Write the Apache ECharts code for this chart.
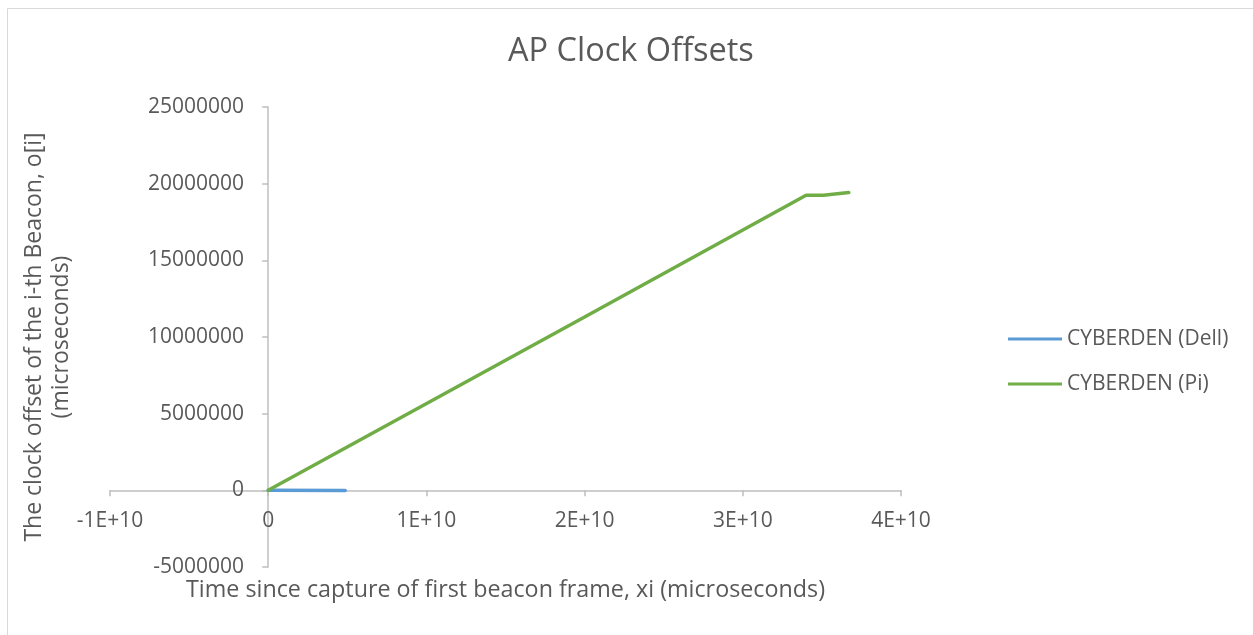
<!DOCTYPE html>
<html>
<head>
<meta charset="utf-8">
<script src="https://cdn.jsdelivr.net/npm/echarts@6/dist/echarts.min.js"></script>
<style>
  html, body { margin: 0; padding: 0; background: #fff; }
  #chart { width: 1253px; height: 635px; }
</style>
</head>
<body>
<div id="chart"></div>
<script>
// values (x in microseconds, y in microseconds)
const seriesNames = ["CYBERDEN (Dell)", "CYBERDEN (Pi)"];
const dellPoints = [[0, 0], [4.87e9, -5000]];
const piPoints = [[0, 0], [2.0e10, 11300000], [3.40e10, 19250000], [3.51e10, 19250000], [3.67e10, 19420000]];
const xTicks = [-1e10, 0, 1e10, 2e10, 3e10, 4e10];
const yTicks = [-5000000, 0, 5000000, 10000000, 15000000, 20000000, 25000000];

const textColor = "#595959";
const axisColor = "#bfbfbf";
const font = "'Open Sans', 'Noto Sans', sans-serif";

const chart = echarts.init(document.getElementById("chart"));
// axis lines sit on zero, but v6 keeps labels/names at grid edges,
// so the margins below are measured from the grid edges
chart.setOption({
  animation: false,
  textStyle: { fontFamily: font },
  graphic: [{
    type: "rect",
    shape: { x: 7.5, y: 8.5, width: 1260, height: 640 },
    style: { fill: "none", stroke: "#d9d9d9", lineWidth: 1 },
    silent: true
  }],
  title: {
    text: "AP Clock Offsets",
    left: 508,
    top: 35,
    padding: 0,
    textStyle: { color: textColor, fontSize: 32.5, fontWeight: "normal", fontFamily: font }
  },
  legend: {
    orient: "vertical",
    left: 1008,
    top: 327,
    padding: 0,
    data: seriesNames,
    icon: "path://M0,0 h54 v3 h-54z",
    itemWidth: 54,
    itemHeight: 3,
    itemGap: 21,
    textStyle: { color: textColor, fontSize: 21, lineHeight: 24, fontFamily: font }
  },
  grid: { left: 110, right: 352, top: 107, bottom: 68, containLabel: false, outerBoundsMode: "none" },
  xAxis: {
    type: "value",
    min: xTicks[0],
    max: xTicks[xTicks.length - 1],
    interval: 1e10,
    name: "Time since capture of first beacon frame, xi (microseconds)",
    nameLocation: "middle",
    nameGap: 12,
    nameTextStyle: { color: textColor, fontSize: 23.3, fontFamily: font },
    axisLine: { onZero: true, lineStyle: { color: axisColor, width: 1.5 } },
    axisTick: { show: true, length: 6, lineStyle: { color: axisColor, width: 1.5 } },
    axisLabel: {
      color: textColor, fontSize: 21, margin: -56, fontFamily: font,
      formatter: function (v) { return v === 0 ? "0" : (v / 1e10) + "E+10"; }
    },
    splitLine: { show: false }
  },
  yAxis: {
    type: "value",
    min: yTicks[0],
    max: yTicks[yTicks.length - 1],
    interval: 5000000,
    name: "The clock offset of the i-th Beacon, o[i]\n(microseconds)",
    nameLocation: "middle",
    nameGap: 35,
    nameTextStyle: { color: textColor, fontSize: 23, lineHeight: 27, fontFamily: font },
    axisLine: { onZero: true, lineStyle: { color: axisColor, width: 1.5 } },
    axisTick: { show: true, length: 6, lineStyle: { color: axisColor, width: 1.5 } },
    axisLabel: {
      color: textColor, fontSize: 21, margin: -134, fontFamily: font,
      formatter: function (v) { return String(v); }
    },
    splitLine: { show: false }
  },
  series: [
    {
      name: seriesNames[0],
      type: "line",
      data: dellPoints,
      symbol: "none",
      lineStyle: { color: "#5b9bd5", width: 3.5, cap: "round" },
      itemStyle: { color: "#5b9bd5" }
    },
    {
      name: seriesNames[1],
      type: "line",
      data: piPoints,
      symbol: "none",
      lineStyle: { color: "#70ad47", width: 3.5, cap: "round" },
      itemStyle: { color: "#70ad47" }
    }
  ]
});
</script>
</body>
</html>
